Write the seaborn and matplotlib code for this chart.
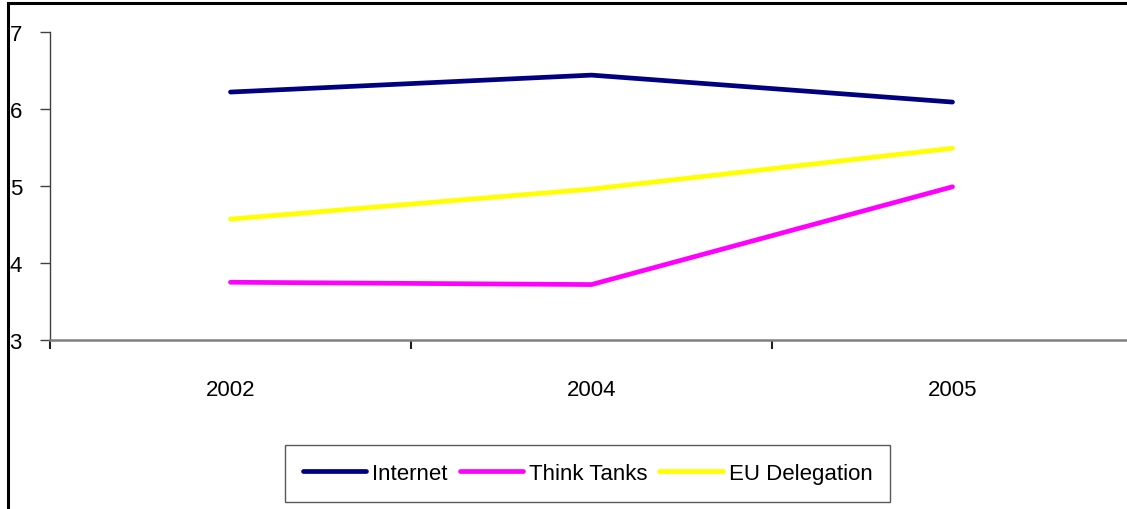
import matplotlib
matplotlib.use("Agg")
import matplotlib.pyplot as plt
from matplotlib.patches import Rectangle
from matplotlib.lines import Line2D
from matplotlib.ticker import FixedLocator
import seaborn as sns
import pandas as pd

years = ["2002", "2004", "2005"]
internet = [6.22, 6.44, 6.09]
think_tanks = [3.75, 3.72, 4.99]
eu_delegation = [4.57, 4.96, 5.49]
series_names = ["Internet", "Think Tanks", "EU Delegation"]
series_colors = ["#000080", "#FF00FF", "#FFFF00"]

rows = []
for name, vals in zip(series_names, [internet, think_tanks, eu_delegation]):
    for i, (yr, v) in enumerate(zip(years, vals)):
        rows.append({"pos": i, "year": yr, "value": v, "series": name})
df = pd.DataFrame(rows)

sns.set_theme(style="white")
plt.rcParams["font.family"] = ["Liberation Sans", "DejaVu Sans"]
plt.rcParams["text.color"] = "black"
FS = 16

W, H = 1127, 510
fig = plt.figure(figsize=(W / 100, H / 100), dpi=100)
ax = fig.add_axes([50 / W, (H - 341) / H, (1133 - 50) / W, (341 - 33) / H])

sns.lineplot(data=df, x="pos", y="value", hue="series", hue_order=series_names,
             palette=series_colors, linewidth=3.4, ax=ax, legend=False,
             solid_capstyle="round")

ax.set_xlim(-0.5, 2.5)
ax.set_ylim(3, 7)
ax.set_yticks([3, 4, 5, 6, 7])
ax.set_yticklabels(["3", "4", "5", "6", "7"], fontsize=FS, color="black")
ax.set_xticks(range(len(years)))
ax.set_xticklabels(years, fontsize=FS, color="black")
ax.xaxis.set_minor_locator(FixedLocator([-0.5, 0.5, 1.5, 2.5]))
ax.tick_params(axis="x", which="major", length=0, pad=28)
ax.tick_params(axis="x", which="minor", length=6.5, width=1.5, color="#202020",
               direction="out", bottom=True)
ax.tick_params(axis="y", which="major", length=7.2, width=1.0, color="#404040",
               direction="out", pad=13, left=True)
ax.set_xlabel("")
ax.set_ylabel("")
ax.grid(False)

for side in ["top", "right"]:
    ax.spines[side].set_visible(False)
ax.spines["left"].set_color("#404040")
ax.spines["left"].set_linewidth(1.0)
ax.spines["bottom"].set_color("#808080")
ax.spines["bottom"].set_linewidth(1.8)

handles = [Line2D([0], [0], color=c, lw=3.4, solid_capstyle="round") for c in series_colors]
leg = fig.legend(handles, series_names, loc="center", ncol=3,
                 bbox_to_anchor=(587.5 / W, (H - 474.5) / H), fontsize=FS,
                 frameon=True, fancybox=False, handlelength=2.84, handletextpad=0.27,
                 columnspacing=0.55, borderpad=0.8, labelcolor="black")
leg.get_frame().set_edgecolor("#303030")
leg.get_frame().set_linewidth(1.0)

# outer chart frame, visible on the left and top edges
fig.patches.append(Rectangle((8 / W, -0.1), 2.0, (H - 4) / H + 0.1, fill=False,
                             edgecolor="black", linewidth=2.2, transform=fig.transFigure))

fig.savefig("out.png", dpi=100)
